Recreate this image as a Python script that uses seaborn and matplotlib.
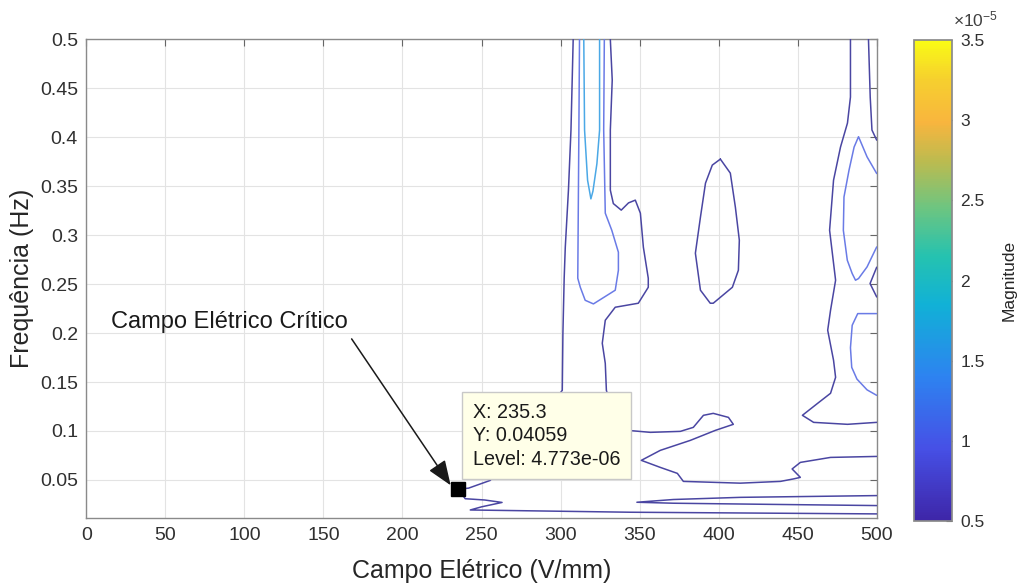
import numpy as np
import pandas as pd
import matplotlib
matplotlib.use("Agg")
import matplotlib.pyplot as plt
import seaborn as sns
from matplotlib.colors import LinearSegmentedColormap, Normalize
from matplotlib.cm import ScalarMappable

# ---------------- data ----------------
x_ticks = [0, 50, 100, 150, 200, 250, 300, 350, 400, 450, 500]
y_ticks = [0.05, 0.1, 0.15, 0.2, 0.25, 0.3, 0.35, 0.4, 0.45, 0.5]
y_tick_labels = ["0.05", "0.1", "0.15", "0.2", "0.25", "0.3", "0.35", "0.4", "0.45", "0.5"]
cbar_ticks = [0.5, 1, 1.5, 2, 2.5, 3, 3.5]  # x 1e-5
cbar_tick_labels = ["0.5", "1", "1.5", "2", "2.5", "3", "3.5"]

level_low = 4.773e-6
level_mid = 1.0e-5
level_high = 1.5e-5

critical_x = 235.3
critical_y = 0.04059

# contour paths (x: V/mm, y: Hz)
dark_a_x = [500, 344.1, 242.9, 250.0, 263.0, 252.0, 239.7, 235.3, 241.8, 255.5, 301.1, 301.5, 302.3, 303.0, 305.0, 306.6, 308.0]
dark_a_y = [0.0153, 0.0170, 0.0193, 0.0225, 0.0270, 0.0295, 0.0308, 0.04059, 0.0416, 0.0495, 0.1415, 0.20, 0.2560, 0.2877, 0.3460, 0.4074, 0.5]

dark_b_x = [331.5, 332.7, 331.5, 331.5, 333.4, 338.4, 343.0, 347.3, 350.5, 352.4, 355.5, 355.5, 349.2, 334.6, 328.3, 326.4, 328.3,
            329.0, 335.0, 342.8, 356.8, 375.8, 384.0, 390.4, 396.6, 406.2, 409.3, 397.9, 382.1, 363.1, 351.1, 363.1, 373.9,
            377.7, 413.7, 439.1, 447.3, 451.7, 446.5, 451.7, 470.8, 500]
dark_b_y = [0.5, 0.4585, 0.4074, 0.346, 0.3323, 0.3256, 0.333, 0.3358, 0.3225, 0.2877, 0.2560, 0.2468, 0.2305, 0.2264, 0.2131, 0.1896, 0.1691,
            0.1415, 0.11, 0.1006, 0.0986, 0.0996, 0.1037, 0.1160, 0.1180, 0.1139, 0.1068, 0.1006, 0.0904, 0.0802, 0.0700, 0.0628, 0.0567,
            0.0485, 0.0467, 0.0485, 0.0510, 0.0526, 0.0612, 0.0679, 0.0730, 0.0740]

dark_c_x = [401.1, 407.4, 410.6, 413.1, 412.5, 408.7, 396.6, 394.7, 388.5, 385.3, 388.5, 391.7, 396.0, 401.1]
dark_c_y = [0.3777, 0.3634, 0.3286, 0.2949, 0.2642, 0.2468, 0.2305, 0.2305, 0.2438, 0.2816, 0.3184, 0.3532, 0.3716, 0.3777]

dark_d_x = [483.4, 483.4, 481.5, 477.1, 472.7, 470.2, 472.7, 474.0, 470.8, 469.0, 472.7, 474.0, 470.8, 462.6, 453.0, 460.1, 481.5, 500]
dark_d_y = [0.5, 0.4411, 0.4145, 0.3900, 0.3562, 0.3051, 0.2714, 0.2540, 0.2233, 0.2029, 0.1722, 0.1548, 0.1385, 0.1282, 0.1160, 0.1088, 0.1068, 0.1088]

dark_e_x = [494.8, 495.9, 497.0, 500]
dark_e_y = [0.5, 0.441, 0.4074, 0.3971]

dark_f_x = [500, 495.8, 500]
dark_f_y = [0.2673, 0.2506, 0.2369]

dark_g_x = [500, 413.7, 371.4, 348.3, 371.4, 434.6, 500]
dark_g_y = [0.0340, 0.0322, 0.0300, 0.0272, 0.0262, 0.0250, 0.0238]

blue_a_x = [312.0, 311.6, 310.9, 312.5, 315.6, 320.8, 334.6, 336.6, 336.6, 332.4, 328.3, 327.3, 327.7]
blue_a_y = [0.5, 0.4074, 0.2560, 0.2468, 0.2335, 0.2298, 0.2438, 0.2642, 0.2826, 0.3051, 0.3225, 0.4074, 0.5]

blue_b_x = [500, 493.9, 488.5, 485.7, 482.5, 479.3, 478.9, 481.4, 484.5, 486.6, 488.5, 493.9, 497.0, 500]
blue_b_y = [0.363, 0.380, 0.4006, 0.390, 0.3665, 0.339, 0.305, 0.2744, 0.2608, 0.254, 0.2557, 0.2676, 0.278, 0.288]

blue_c_x = [500, 488.0, 484.5, 483.4, 484.2, 487.5, 493.9, 500]
blue_c_y = [0.2199, 0.2199, 0.2080, 0.1850, 0.1650, 0.1530, 0.1420, 0.1364]

cyan_a_x = [314.7, 315.2, 317.1, 319.2, 320.5, 323.0, 324.7, 324.7]
cyan_a_y = [0.5, 0.4074, 0.3562, 0.3371, 0.345, 0.373, 0.4074, 0.5]

# ---------------- build table ----------------
paths = [
    ("dark_a", level_low, dark_a_x, dark_a_y),
    ("dark_b", level_low, dark_b_x, dark_b_y),
    ("dark_c", level_low, dark_c_x, dark_c_y),
    ("dark_d", level_low, dark_d_x, dark_d_y),
    ("dark_e", level_low, dark_e_x, dark_e_y),
    ("dark_f", level_low, dark_f_x, dark_f_y),
    ("dark_g", level_low, dark_g_x, dark_g_y),
    ("blue_a", level_mid, blue_a_x, blue_a_y),
    ("blue_b", level_mid, blue_b_x, blue_b_y),
    ("blue_c", level_mid, blue_c_x, blue_c_y),
    ("cyan_a", level_high, cyan_a_x, cyan_a_y),
]
rows = []
for name, lev, xs, ys in paths:
    for i, (xv, yv) in enumerate(zip(xs, ys)):
        rows.append({"seg": name, "order": i, "level": f"{lev:.3e}", "x": xv, "y": yv})
df = pd.DataFrame(rows)

# parula-like colormap
parula = LinearSegmentedColormap.from_list("parula", [
    (0.00, "#3E26A8"), (0.15, "#4650E6"), (0.30, "#2D83F0"), (0.45, "#11B1D6"),
    (0.55, "#25C2B0"), (0.65, "#6CC581"), (0.75, "#BDBB4F"), (0.83, "#F8B53E"),
    (0.92, "#F6D02E"), (1.00, "#F9FB15")])

line_colors = {f"{level_low:.3e}": "#4A46A2",
               f"{level_mid:.3e}": "#6A7BE6",
               f"{level_high:.3e}": "#4BA8E6"}

# ---------------- figure ----------------
sns.set_theme(style="white")
plt.rcParams["font.family"] = ["Liberation Sans", "DejaVu Sans"]
plt.rcParams["mathtext.fontset"] = "custom"
plt.rcParams["mathtext.rm"] = "Liberation Sans"
plt.rcParams["mathtext.it"] = "Liberation Sans"

W, H = 1017, 587
fig = plt.figure(figsize=(W / 100, H / 100), dpi=100)
ax = fig.add_axes([86.3 / W, 1 - 518.3 / H, (876.7 - 86.3) / W, (518.3 - 39.4) / H])

sns.lineplot(data=df, x="x", y="y", hue="level", units="seg", estimator=None, sort=False,
             palette=line_colors, linewidth=1.1, legend=False, ax=ax, zorder=3)

ax.set_xlim(0, 500)
ax.set_ylim(0.0108, 0.5)
ax.set_xticks(x_ticks)
ax.set_xticklabels([str(v) for v in x_ticks])
ax.set_yticks(y_ticks)
ax.set_yticklabels(y_tick_labels)
ax.grid(True, color="#E3E3E3", linewidth=0.8)
ax.set_axisbelow(True)
for s in ax.spines.values():
    s.set_color("#8A8A8A")
    s.set_linewidth(1.0)
ax.tick_params(direction="in", length=5, width=0.8, color="#666666", labelsize=14,
               labelcolor="#303030", top=True, right=True, pad=6)
ax.set_xlabel("Campo Elétrico (V/mm)", fontsize=18, color="#262626", labelpad=11)
ax.set_ylabel("Frequência (Hz)", fontsize=18, color="#262626", labelpad=4.5)

# critical point marker
ax.plot([critical_x], [critical_y], marker="s", markersize=9.5, color="black", zorder=6)

# data tip
ax.annotate(f"X: {critical_x}\nY: {critical_y}\nLevel: {level_low:.3e}",
            xy=(critical_x, critical_y), xytext=(10.6, 14.8), textcoords="offset points",
            ha="left", va="bottom", fontsize=14.2, color="#1a1a1a", linespacing=1.3,
            bbox=dict(boxstyle="square,pad=0.55", fc="#FFFFE8", ec="#C8C8C8", lw=1),
            zorder=5)

# arrow annotation
ax.annotate("Campo Elétrico Crítico", xy=(230.5, 0.0445), xytext=(15.7, 0.211),
            textcoords="data", ha="left", va="center", fontsize=17, color="#1a1a1a",
            arrowprops=dict(arrowstyle="-|>,head_length=0.9,head_width=0.35", color="#1a1a1a",
                            lw=1.1, relpos=(1.0, 0.0), shrinkA=2, shrinkB=0),
            zorder=7)

# colorbar
cax = fig.add_axes([914 / W, 1 - 521 / H, 38 / W, (521 - 40) / H])
sm = ScalarMappable(norm=Normalize(vmin=0.5, vmax=3.5), cmap=parula)
cb = fig.colorbar(sm, cax=cax)
cb.set_ticks(cbar_ticks)
cb.set_ticklabels(cbar_tick_labels)
cb.outline.set_edgecolor("#8A8A8A")
cax.tick_params(direction="in", length=4, width=0.8, color="#555555", labelsize=12.5,
                labelcolor="#303030", pad=6)
cb.set_label("Magnitude", fontsize=12.5, color="#262626", labelpad=12)
fig.text(953 / W, 1 - 29 / H, r"$\times10^{-5}$", fontsize=12.5, color="#404040", ha="left", va="bottom")

fig.savefig("out.png", dpi=100)
